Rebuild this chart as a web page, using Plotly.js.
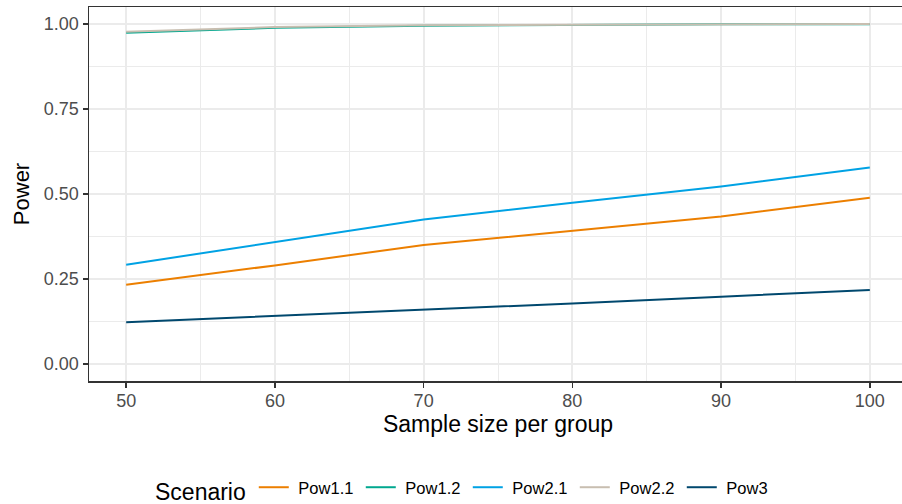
<!DOCTYPE html>
<html>
<head>
<meta charset="utf-8">
<script src="https://cdn.plot.ly/plotly-3.0.1.min.js"></script>
<style>
html, body { margin: 0; padding: 0; overflow: hidden; background: #fff; }
#chart { width: 907px; height: 504px; }
</style>
</head>
<body>
<div id="chart"></div>
<script>
const sampleSize = [50, 60, 70, 80, 90, 100];
const pow11 = [0.233, 0.290, 0.350, 0.391, 0.434, 0.489];
const pow12 = [0.974, 0.989, 0.995, 0.998, 0.999, 0.999];
const pow21 = [0.292, 0.359, 0.425, 0.474, 0.522, 0.578];
const pow22 = [0.977, 0.991, 0.996, 0.998, 0.999, 1.000];
const pow3  = [0.123, 0.141, 0.161, 0.178, 0.198, 0.218];
const seriesNames = ["Pow1.1", "Pow1.2", "Pow2.1", "Pow2.2", "Pow3"];
const seriesValues = [pow11, pow12, pow21, pow22, pow3];
const seriesColors = ["#EC7F00", "#00A88F", "#00A2E4", "#C8BEB0", "#00486E"];
const yTicks = [0, 0.25, 0.5, 0.75, 1.0];
const yTickLabels = ["0.00", "0.25", "0.50", "0.75", "1.00"];
const xTicks = [50, 60, 70, 80, 90, 100];

const FONT = "Liberation Sans, Arial, Helvetica, sans-serif";

const traces = seriesNames.map((n, i) => ({
  x: sampleSize,
  y: seriesValues[i],
  name: "\u00a0" + n,
  type: "scatter",
  mode: "lines",
  line: { color: seriesColors[i], width: 2 },
  hoverinfo: "skip"
}));

const layout = {
  width: 907,
  height: 504,
  margin: { l: 89, r: 0, t: 7, b: 123 },
  paper_bgcolor: "#ffffff",
  plot_bgcolor: "#ffffff",
  font: { family: FONT, color: "#000000" },
  showlegend: true,
  xaxis: {
    range: [47.5, 102.5],
    tickvals: xTicks,
    ticktext: xTicks.map(String),
    ticks: "outside",
    ticklen: 5,
    tickwidth: 1.5,
    tickcolor: "#333333",
    tickfont: { family: FONT, size: 18, color: "#4D4D4D" },
    ticklabelstandoff: -2,
    showgrid: true,
    gridcolor: "#EBEBEB",
    gridwidth: 2,
    minor: { dtick: 5, tick0: 45, showgrid: true, gridcolor: "#EBEBEB", gridwidth: 1 },
    zeroline: false,
    showline: true,
    linecolor: "#333333",
    linewidth: 1.5,
    mirror: true,
    title: { text: "Sample size per group", font: { family: FONT, size: 23, color: "#000000" }, standoff: 4 }
  },
  yaxis: {
    range: [-0.05, 1.05],
    tickvals: yTicks,
    ticktext: yTickLabels,
    ticks: "outside",
    ticklen: 5,
    tickwidth: 1.5,
    tickcolor: "#333333",
    tickfont: { family: FONT, size: 18, color: "#4D4D4D" },
    showgrid: true,
    gridcolor: "#EBEBEB",
    gridwidth: 2,
    minor: { dtick: 0.125, tick0: 0, showgrid: true, gridcolor: "#EBEBEB", gridwidth: 1 },
    zeroline: false,
    showline: true,
    linecolor: "#333333",
    linewidth: 1.5,
    mirror: true,
    title: { text: "Power", font: { family: FONT, size: 22, color: "#000000" }, standoff: 8 }
  },
  legend: {
    orientation: "h",
    xref: "container",
    yref: "container",
    x: 153 / 907,
    xanchor: "left",
    y: 1 - 490 / 504,
    yanchor: "middle",
    title: { text: "Scenario", side: "left", font: { family: FONT, size: 23, color: "#000000" } },
    font: { family: FONT, size: 16.5, color: "#000000" },
    bgcolor: "rgba(0,0,0,0)",
    entrywidth: 62,
    itemwidth: 30,
    tracegroupgap: 0
  }
};

Plotly.newPlot("chart", traces, layout, { staticPlot: true, displayModeBar: false });
</script>
</body>
</html>
